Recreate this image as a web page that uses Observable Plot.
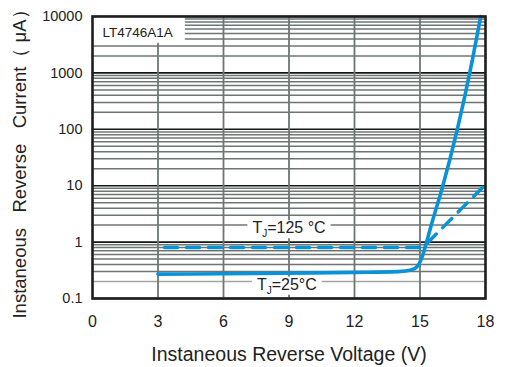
<!DOCTYPE html>
<html>
<head>
<meta charset="utf-8">
<script src="https://cdn.jsdelivr.net/npm/d3@7"></script>
<script src="https://cdn.jsdelivr.net/npm/@observablehq/plot@0.6"></script>
<style>
  body { margin: 0; background: #fff; }
  svg text { white-space: pre; }
</style>
</head>
<body>
<div id="chart"></div>
<script>
// Axis ticks and grid
const xTicks = [0, 3, 6, 9, 12, 15, 18];
const yTicks = [0.1, 1, 10, 100, 1000, 10000];
const xGrid = [3, 6, 9, 12, 15];
const minorSteps = [2, 3, 4, 5, 6, 7, 8, 9];

// Reverse current (µA) vs reverse voltage (V), TJ = 25 °C
const v25 = [3, 6, 9, 12, 14, 14.6, 14.9, 15.1, 15.3, 15.6, 16.0, 17.4, 17.78];
const i25 = [0.27, 0.275, 0.28, 0.29, 0.30, 0.32, 0.38, 0.55, 1.0, 2.6, 8.6, 1700, 10000];

// Reverse current (µA) vs reverse voltage (V), TJ = 125 °C
const v125 = [3.3, 9, 15.0, 15.2, 18];
const i125 = [0.8, 0.8, 0.8, 0.85, 10.5];

// Curve annotations
const labelText = ["TJ=125 °C", "TJ=25°C"];
const labelV = [9.0, 8.9];
const labelI = [2, 0.2];
const partName = "LT4746A1A";
const xTitle = "Instaneous Reverse Voltage (V)";
const yTitle = "Instaneous   Reverse   Current\uFF08 \u03BCA\uFF09";

const blue = "#0a92d8";
const s25 = v25.map((v, i) => ({v, i: i25[i]}));
const s125 = v125.map((v, i) => ({v, i: i125[i]}));
const minor = yTicks.slice(0, -1).flatMap(d => minorSteps.map(k => +(d * k).toPrecision(3)));

const chart = Plot.plot({
  width: 505,
  height: 367,
  marginLeft: 92,
  marginRight: 20,
  marginTop: 16,
  marginBottom: 69,
  style: {fontFamily: "'Liberation Sans', Arial, sans-serif", fontSize: "16px", color: "#222", background: "#fff"},
  x: {domain: [0, 18]},
  y: {type: "log", domain: [0.1, 10000]},
  marks: [
    Plot.ruleY(minor, {stroke: d => d === 0.2 ? "#a2a6a5" : "#6e7674", strokeWidth: 1.5}),
    Plot.ruleY(yTicks, {stroke: "#161616", strokeWidth: 1.6}),
    Plot.ruleX(xGrid, {stroke: "#6e7674", strokeWidth: 1.8}),
    Plot.line(s25, {x: "v", y: "i", stroke: blue, strokeWidth: 3.6, curve: "monotone-x"}),
    Plot.line(s125, {x: "v", y: "i", stroke: blue, strokeWidth: 3.4, strokeDasharray: "13,9"}),
    Plot.text(labelText, {x: (d, i) => labelV[i], y: (d, i) => labelI[i], text: d => d,
      fontSize: 16, fill: "#222", dy: 3}),
    Plot.text([partName], {frameAnchor: "top-left", text: d => d, dx: 10, dy: 16,
      lineAnchor: "middle", textAnchor: "start", fontSize: 13.5, fill: "#222"}),
    Plot.frame({stroke: "#1e1e1e", strokeWidth: 2.6}),
    Plot.axisX({ticks: xTicks, tickSize: 0, tickPadding: 17, fontSize: 16, label: null}),
    Plot.axisY({ticks: yTicks, tickSize: 0, tickPadding: 10, fontSize: 14.5, label: null, tickFormat: d => String(d)}),
    Plot.text([xTitle], {frameAnchor: "bottom", text: d => d, dy: 62,
      fontSize: 19.5, fill: "#222"}),
    Plot.text([yTitle], {frameAnchor: "left", text: d => d, textAnchor: "middle",
      dx: -72, dy: 2, rotate: -90, fontSize: 18.5, fill: "#222"})
  ]
});

document.getElementById("chart").append(chart);

// Subscript J in the junction temperature labels, with white boxes behind the labels
const NS = "http://www.w3.org/2000/svg";
function backBox(t, left, right, top, bottom) {
  const bb = t.getBBox();
  const r = document.createElementNS(NS, "rect");
  r.setAttribute("x", bb.x - left);
  r.setAttribute("width", bb.width + left + right);
  r.setAttribute("y", bb.y - top);
  r.setAttribute("height", bb.height + top + bottom);
  r.setAttribute("fill", "#fff");
  if (t.getAttribute("transform")) r.setAttribute("transform", t.getAttribute("transform"));
  t.parentNode.insertBefore(r, t);
}
chart.querySelectorAll("text").forEach(t => {
  const s = t.textContent;
  if (labelText.includes(s)) {
    t.textContent = "";
    const a = document.createElementNS(NS, "tspan"); a.textContent = s[0];
    const b = document.createElementNS(NS, "tspan"); b.textContent = s[1];
    b.setAttribute("font-size", "10"); b.setAttribute("dy", "4");
    const c = document.createElementNS(NS, "tspan"); c.textContent = s.slice(2); c.setAttribute("dy", "-4");
    t.append(a, b, c);
    backBox(t, 5, 5, -1, -1);
  } else if (s === partName) {
    backBox(t, 10, 12, 8, 3);
  }
});
</script>
</body>
</html>
